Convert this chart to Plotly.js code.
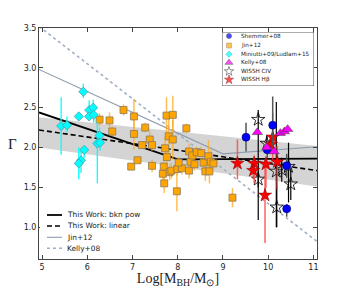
<!DOCTYPE html>
<html>
<head>
<meta charset="utf-8">
<script src="https://cdn.plot.ly/plotly-3.0.1.min.js"></script>
<style>html,body{margin:0;padding:0;background:#fff;}#chart{width:354px;height:288px;}</style>
</head>
<body>
<div id="chart"></div>
<script>
// ---------- data ----------
// Jin+12 (orange squares)
const jinX = [6.27,6.49,6.55,6.80,6.97,7.03,7.03,7.11,7.21,7.28,7.38,7.43,7.43,7.67,7.69,7.70,7.72,7.75,7.76,7.80,7.82,7.86,7.89,7.89,7.98,7.99,8.09,8.19,8.25,8.25,8.28,8.32,8.37,8.42,8.52,8.57,8.61,8.68,8.70,8.73,8.79,9.21,8.02];
const jinY = [2.35,2.34,2.20,2.47,1.76,2.39,2.17,1.84,2.03,2.25,2.10,2.03,1.77,1.67,1.76,1.55,1.99,2.40,1.88,2.14,1.69,1.71,2.41,2.10,1.45,1.73,1.74,2.24,1.95,1.71,1.82,1.90,1.79,1.94,1.93,1.81,1.70,1.89,1.70,1.82,1.80,1.37,1.81];
const jinErr = [0.08,0.10,0.06,0.07,0.04,0.22,0.20,0.04,0.05,0.06,0.10,0.07,0.08,0.10,0.10,0.12,0.15,0.23,0.12,0.30,0.10,0.10,0.24,0.25,0.25,0.08,0.08,0.06,0.10,0.10,0.10,0.06,0.08,0.07,0.08,0.08,0.12,0.20,0.15,0.15,0.06,0.12,0.07];

// Miniutti+09 / Ludlam+15 (cyan diamonds)
const minX = [5.42,5.55,5.81,5.91,6.04,6.13,6.04,6.14,6.27,6.22,6.28,5.93,5.86,5.81];
const minY = [2.27,2.28,2.39,2.70,2.47,2.50,2.39,2.41,2.15,2.05,2.06,1.97,1.84,1.80];
const minErrUp = [0.36,0.11,0.02,0.10,0.12,0.10,0.05,0.14,0.10,0.28,0.10,0.05,0.15,0.20];
const minErrDn = [0.36,0.09,0.02,0.08,0.10,0.10,0.05,0.10,0.10,0.50,0.10,0.10,0.16,0.20];

// Shemmer+08 (blue circles)
const shemX = [9.51,9.98,10.10,10.41,10.41];
const shemY = [2.13,1.97,2.28,1.77,1.23];
const shemErrUp = [0.18,0.10,0.36,0.15,0.06];
const shemErrDn = [0.18,0.10,0.26,0.15,0.10];

// Kelly+08 (magenta triangles)
const kellyX = [9.76,9.97,10.13,10.27,10.36,10.43];
const kellyY = [2.19,2.00,1.95,2.18,2.20,2.23];

// WISSH CIV (open stars)
const civX = [9.78,9.78,9.97,10.19,10.18,10.30,10.45,10.50];
const civY = [2.35,1.60,2.05,1.25,1.70,1.72,1.76,1.54];
const civErrUp = [0.12,0.10,0.10,0.25,0.87,0.15,0.30,0.20];
const civErrDn = [1.26,0.10,0.10,0.25,0.70,0.15,0.45,0.20];

// WISSH Hbeta (red stars)
const hbX = [9.32,9.69,9.67,9.95,9.93,10.06,10.10,10.20];
const hbY = [1.80,1.80,1.71,1.79,1.40,2.04,2.13,1.82];
const hbErrUp = [0.30,0.10,0.10,0.10,0.45,0.10,0.30,0.20];
const hbErrDn = [0.20,0.25,0.10,0.30,0.60,0.10,0.30,0.35];

// relations
const bandX = [4.93, 11.08];
const bandLow = [2.00, 1.51];
const bandHigh = [2.38, 2.02];
const bknX = [4.93, 8.0, 11.08];
const bknY = [2.44, 1.85, 1.86];
const linX = [4.93, 11.08];
const linY = [2.22, 1.71];
const jinLineX = [4.93, 9.0, 11.08];
const jinLineY = [2.98, 1.92, 2.01];
const kellyLineX = [4.93, 11.08];
const kellyLineY = [3.52, 0.82];

// tick labels
const xTicks = [5,6,7,8,9,10,11];
const yTicks = [1.0,1.5,2.0,2.5,3.0,3.5];
const yTickText = ['1.0','1.5','2.0','2.5','3.0','3.5'];

// legend labels
const pointLegend = ['Shemmer+08','Jin+12','Miniutti+09/Ludlam+15','Kelly+08','WISSH CIV','WISSH Hβ'];
const lineLegend = ['This Work: bkn pow','This Work: linear','Jin+12','Kelly+08'];
const yTitle = 'Γ';
const xTitle = 'Log[M<sub>BH</sub>/M<sub>⊙</sub>]';

// ---------- styles ----------
const C = {
  orange:'#ffa500', cyan:'#00ffff', blue:'#0000ff', magenta:'#ff00ff', red:'#ff0000',
  jinLine:'#8d9cae', kellyLine:'#9fb0c4', band:'#d4d4d4'
};
const noHover = {hoverinfo:'skip'};

const traces = [];
// band
traces.push({x:bandX, y:bandLow, mode:'lines', line:{width:0, color:C.band}, ...noHover});
traces.push({x:bandX, y:bandHigh, mode:'lines', line:{width:0, color:C.band}, fill:'tonexty', fillcolor:C.band, ...noHover});
// lines
traces.push({x:kellyLineX, y:kellyLineY, mode:'lines', line:{color:C.kellyLine, width:1.6, dash:'3px,3px'}, ...noHover});
traces.push({x:jinLineX, y:jinLineY, mode:'lines', line:{color:C.jinLine, width:1.1}, ...noHover});
traces.push({x:linX, y:linY, mode:'lines', line:{color:'#000', width:1.6, dash:'5px,3px'}, ...noHover});
traces.push({x:bknX, y:bknY, mode:'lines', line:{color:'#000', width:1.8}, ...noHover});
// points
function err(up, dn, color, th){ return {type:'data', symmetric:false, array:up, arrayminus:dn, color:color, thickness:th, width:0}; }
traces.push({x:jinX, y:jinY, mode:'markers', error_y:err(jinErr, jinErr, 'rgba(255,170,30,0.75)', 1.5),
  marker:{symbol:'square', size:7, color:C.orange, line:{color:'#8a7a60', width:0.8}}, ...noHover});
traces.push({x:minX, y:minY, mode:'markers', error_y:err(minErrUp, minErrDn, '#00ffff', 1.3),
  marker:{symbol:'diamond', size:7, color:C.cyan, line:{color:'#4a9ea8', width:0.8}}, ...noHover});
traces.push({x:civX, y:civY, mode:'markers', error_y:err(civErrUp, civErrDn, '#000', 1.2),
  marker:{symbol:'star-open', size:10, color:'#000', line:{width:0.8}}, ...noHover});
traces.push({x:hbX, y:hbY, mode:'markers', error_y:err(hbErrUp, hbErrDn, 'rgba(255,70,70,0.85)', 1.5),
  marker:{symbol:'star', size:10, color:C.red, line:{color:'#700000', width:0.5}}, ...noHover});
traces.push({x:shemX, y:shemY, mode:'markers', error_y:err(shemErrUp, shemErrDn, '#555', 1.5),
  marker:{symbol:'circle', size:8, color:C.blue, line:{color:'#000060', width:0.6}}, ...noHover});
traces.push({x:kellyX, y:kellyY, mode:'markers',
  marker:{symbol:'triangle-up', size:9, color:C.magenta, line:{color:'#333', width:0.5}}, ...noHover});

// ---------- legends (drawn in small helper axes, units = pixels) ----------
const leg1Y = [36, 45.5, 54.3, 62.6, 71.3, 79.7];
traces.push({x:[229,229,229,229,229,229], y:leg1Y, xaxis:'x2', yaxis:'y2', mode:'markers',
  marker:{symbol:['circle','square','diamond','triangle-up','star-open','star'],
          size:[5,5,5,7,7,7],
          color:[C.blue,C.orange,C.cyan,C.magenta,'#000',C.red],
          line:{color:['#000060','#8a7a60','#4a9ea8','#333','#000','#700000'], width:0.6}}, ...noHover});
const leg2Y = [215, 226, 237.3, 248.3];
const leg2Style = [
  {color:'#000', width:1.8},
  {color:'#000', width:1.6, dash:'5px,3px'},
  {color:C.jinLine, width:1.1},
  {color:C.kellyLine, width:1.6, dash:'3px,3px'}
];
leg2Y.forEach((yy,i)=>{
  traces.push({x:[47,62], y:[yy,yy], xaxis:'x3', yaxis:'y3', mode:'lines', line:leg2Style[i], ...noHover});
});

const annotations = [];
pointLegend.forEach((t,i)=>annotations.push({x:239, y:leg1Y[i], xref:'x2', yref:'y2', text:t, showarrow:false,
  xanchor:'left', yanchor:'middle', font:{family:'DejaVu Sans', size:5.7, color:'#222'}}));
lineLegend.forEach((t,i)=>annotations.push({x:65, y:leg2Y[i], xref:'x3', yref:'y3', text:t, showarrow:false,
  xanchor:'left', yanchor:'middle', font:{family:'DejaVu Sans', size:7.4, color:'#222'}}));
// y-axis title (Gamma), placed in the left margin
annotations.push({x:-0.097, y:0.5, xref:'paper', yref:'paper', text:yTitle, showarrow:false,
  xanchor:'center', yanchor:'middle', font:{family:'Liberation Serif', size:15, color:'#222'}});

const axCommon = {showline:true, mirror:'ticks', linecolor:'#444', linewidth:1, ticks:'inside', ticklen:4,
  tickcolor:'#444', tickwidth:1, showgrid:false, zeroline:false, automargin:false,
  tickfont:{family:'DejaVu Sans', size:8, color:'#222'}};
const hidden = {visible:false, showgrid:false, zeroline:false, fixedrange:true, automargin:false};

const layout = {
  width:354, height:288,
  margin:{l:39, r:37, t:28, b:29, pad:0},
  paper_bgcolor:'#fff', plot_bgcolor:'#fff',
  showlegend:false,
  font:{family:'DejaVu Sans', size:8, color:'#222'},
  xaxis:Object.assign({}, axCommon, {range:[4.93,11.08], tickvals:xTicks, ticktext:xTicks.map(String),
    title:{text:xTitle, font:{family:'Liberation Serif', size:14, color:'#222'}, standoff:1}}),
  yaxis:Object.assign({}, axCommon, {range:[0.6,3.5], tickvals:yTicks, ticktext:yTickText}),
  xaxis2:Object.assign({}, hidden, {domain:[0.6583,0.9892], range:[222,314], anchor:'y2'}),
  yaxis2:Object.assign({}, hidden, {domain:[0.7489,0.9827], range:[86,32], anchor:'x2'}),
  xaxis3:Object.assign({}, hidden, {domain:[0.0036,0.4353], range:[40,160], anchor:'y3'}),
  yaxis3:Object.assign({}, hidden, {domain:[0.0173,0.2338], range:[255,205], anchor:'x3'}),
  shapes:[{type:'rect', xref:'x2', yref:'y2', x0:222, x1:314, y0:32, y1:86,
    line:{color:'#555', width:1}, fillcolor:'rgba(0,0,0,0)', layer:'above'}],
  annotations:annotations
};

Plotly.newPlot('chart', traces, layout, {staticPlot:true, displayModeBar:false});
</script>
</body>
</html>
